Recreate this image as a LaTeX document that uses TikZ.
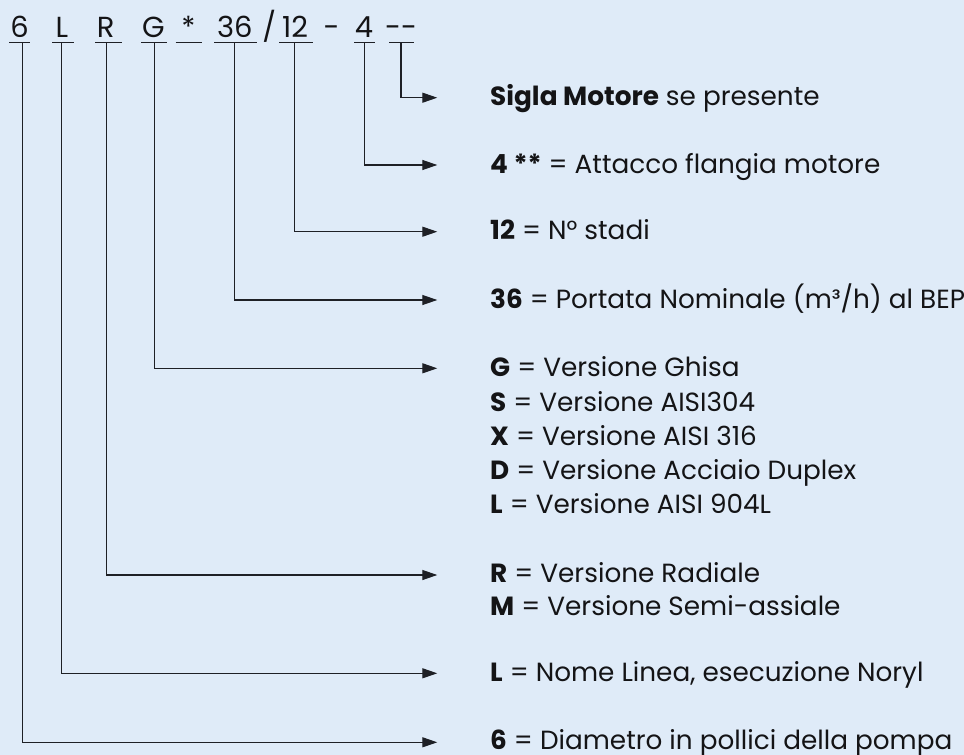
\documentclass[tikz,border=0pt]{standalone}
\usepackage{fontspec}
\setmainfont{Poppins}
\usetikzlibrary{arrows.meta}
\definecolor{bgc}{RGB}{223,235,248}
\definecolor{ink}{RGB}{20,20,22}
\definecolor{linec}{RGB}{30,32,38}
\tikzset{
  hdr/.style={inner sep=0pt, anchor=base, text=ink, font=\fontsize{29}{32}\selectfont},
  lbl/.style={inner sep=0pt, anchor=base west, text=ink, font=\fontsize{26.3}{30}\selectfont},
  uline/.style={draw=linec, line width=1.4pt},
  conn/.style={draw=linec, line width=1.2pt, -{Triangle[length=15pt,width=10pt]}},
}
\begin{document}
\begin{tikzpicture}[x=1pt,y=-1pt]
\fill[bgc] (0,0) rectangle (964,755);
\useasboundingbox (0,0) rectangle (964,755);
% header
\node[hdr] (h6)  at (19.5,37.3) {6};
\node[hdr] (hL)  at (61.8,37.3) {L};
\node[hdr] (hR)  at (105.8,37.3) {R};
\node[hdr] (hG)  at (153.5,37.3) {G};
\node[hdr] (hS)  at (188.3,37.3) {*};
\node[hdr] (h36) at (234.8,37.3) {36};
\node[hdr] (hsl) at (269.3,37.3) {/};
\node[hdr] (h12) at (295,37.3) {12};
\node[hdr] (hdash) at (331.5,37.3) {-};
\node[hdr] (h4)  at (364,37.3) {4};
\node[hdr] (hdd) at (401,37.3) {-{}-};
% underlines
\draw[uline] (9,42.7) -- (30,42.7);
\draw[uline] (52.3,42.7) -- (74,42.7);
\draw[uline] (95,42.7) -- (121.7,42.7);
\draw[uline] (141,42.7) -- (167.3,42.7);
\draw[uline] (175.7,42.7) -- (201.7,42.7);
\draw[uline] (214,42.7) -- (256.7,42.7);
\draw[uline] (279.3,42.7) -- (312.7,42.7);
\draw[uline] (354.3,42.7) -- (375,42.7);
\draw[uline] (389.3,42.7) -- (414.3,42.7);
% connector start points
\coordinate (u6)  at (22.7,42.7);
\coordinate (uL)  at (61.7,42.7);
\coordinate (uR)  at (106.7,42.7);
\coordinate (uG)  at (154.3,42.7);
\coordinate (u36) at (234.3,42.7);
\coordinate (u12) at (294.3,42.7);
\coordinate (u4)  at (364.3,42.7);
\coordinate (udd) at (401,42.7);
% connector end points
\coordinate (edd) at (437.3,97.7);
\coordinate (e4)  at (437.3,165);
\coordinate (e12) at (437.3,231.7);
\coordinate (e36) at (437.3,300);
\coordinate (eG)  at (437.3,368.3);
\coordinate (eR)  at (437.3,575);
\coordinate (eL)  at (437.3,673.3);
\coordinate (e6)  at (437.3,742.3);
% labels
\node[lbl] (tdd) at (490,105.7) {\textbf{Sigla Motore} se presente};
\node[lbl] (t4)  at (490,173) {\textbf{4 **} = Attacco flangia motore};
\node[lbl] (t12) at (490,239.7) {\textbf{12} = N° stadi};
\node[lbl] (t36) at (490,308) {\textbf{36} = Portata Nominale (m³/h) al BEP};
\node[lbl] (tG)  at (490,376.7) {\textbf{G} = Versione Ghisa};
\node[lbl] (tS)  at (490,411) {\textbf{S} = Versione AISI304};
\node[lbl] (tX)  at (490,445.3) {\textbf{X} = Versione AISI 316};
\node[lbl] (tD)  at (490,479.6) {\textbf{D} = Versione Acciaio Duplex};
\node[lbl] (tL2) at (490,513.5) {\textbf{L} = Versione AISI 904L};
\node[lbl] (tR)  at (490,582.3) {\textbf{R} = Versione Radiale};
\node[lbl] (tM)  at (490,615.7) {\textbf{M} = Versione Semi-assiale};
\node[lbl] (tL)  at (490,681) {\textbf{L} = Nome Linea, esecuzione Noryl};
\node[lbl] (t6)  at (490,749.8) {\textbf{6} = Diametro in pollici della pompa};
% connectors
\draw[conn] (udd) |- (edd);
\draw[conn] (u4)  |- (e4);
\draw[conn] (u12) |- (e12);
\draw[conn] (u36) |- (e36);
\draw[conn] (uG)  |- (eG);
\draw[conn] (uR)  |- (eR);
\draw[conn] (uL)  |- (eL);
\draw[conn] (u6)  |- (e6);
\end{tikzpicture}
\end{document}
